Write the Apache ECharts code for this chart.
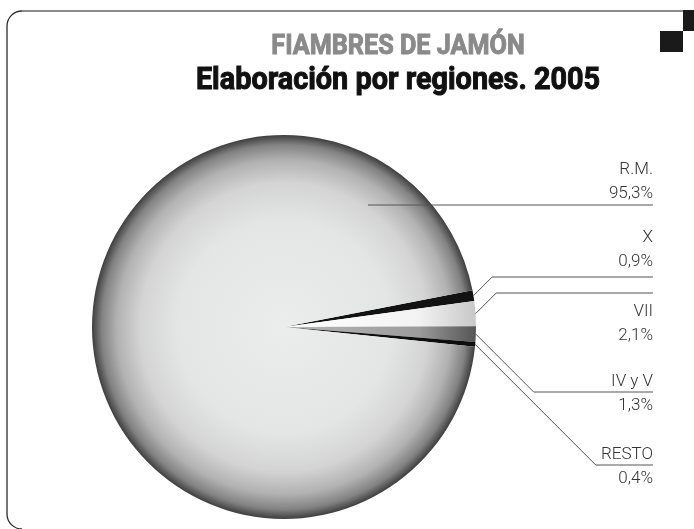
<!DOCTYPE html>
<html>
<head>
<meta charset="utf-8">
<script src="https://cdn.jsdelivr.net/npm/echarts@6/dist/echarts.min.js"></script>
<style>
  html, body { margin: 0; padding: 0; background: #fff; }
  #main { width: 694px; height: 529px; }
</style>
</head>
<body>
<div id="main"></div>
<script>
// datos: elaboración de fiambres de jamón por regiones, 2005 (%)
var regiones = ['X', 'VII', 'IV y V', 'RESTO', 'R.M.'];
var porcentajes = [0.9, 2.1, 1.3, 0.4, 95.3];

// posicion de las etiquetas (columna derecha)
var labelRight = 653;
var labelTop = [226, 300, 370, 443, 158];
var guideY = [277, 293, 392, 465, 205];
var rmAnchor = [368, 205];

var cx = 284, cy = 327, radio = 192;

function radial(stops) {
	return {
		type: 'radial', x: cx, y: cy, r: radio, global: true,
		colorStops: stops.map(function (s) { return { offset: s[0], color: s[1] }; })
	};
}

var colores = [
	'#121212',
	radial([[0, '#ffffff'], [0.7, '#f3f3f3'], [1, '#c8c8c8']]),
	radial([[0, '#b8b8b8'], [0.7, '#9c9c9c'], [1, '#555555']]),
	'#0d0d0d',
	radial([[0, '#ebecec'], [0.55, '#e4e5e5'], [0.75, '#d4d4d4'], [0.87, '#b2b2b2'], [0.95, '#828282'], [1, '#3e3e3e']])
];

var datos = regiones.map(function (n, i) {
	return { name: n, value: porcentajes[i], itemStyle: { color: colores[i] } };
});
// misma torta, transparente, solo para etiquetas (las lineas quedan sobre los sectores)
var datosEtiquetas = regiones.map(function (n, i) {
	return { name: n, value: porcentajes[i] };
});

var marco = { stroke: '#2a2a2a', lineWidth: 1.3, fill: null };

var myChart = echarts.init(document.getElementById('main'));
myChart.setOption({
	animation: false,
	graphic: [
		// marco
		{ type: 'line', silent: true, shape: { x1: 22, y1: 11, x2: 683, y2: 11 },
		  style: { stroke: '#8c8c8c', lineWidth: 2 } },
		{ type: 'arc', silent: true, shape: { cx: 22, cy: 26, r: 15, startAngle: Math.PI, endAngle: Math.PI * 1.5, clockwise: true },
		  style: marco },
		{ type: 'line', silent: true, shape: { x1: 7, y1: 26, x2: 7, y2: 514 }, style: marco },
		{ type: 'arc', silent: true, shape: { cx: 22, cy: 514, r: 15, startAngle: Math.PI * 0.5, endAngle: Math.PI, clockwise: true },
		  style: marco },
		{ type: 'rect', silent: true, shape: { x: 683, y: 10, width: 11, height: 21 }, style: { fill: '#1a1a1a' } },
		{ type: 'rect', silent: true, shape: { x: 660, y: 31, width: 23, height: 21 }, style: { fill: '#1a1a1a' } },
		// titulos
		{ type: 'text', silent: true, x: 398, y: 47, scaleX: 0.9,
		  style: { text: 'FIAMBRES DE JAMÓN', fill: '#8a8a8a', stroke: '#8a8a8a', lineWidth: 1,
		           font: 'bold 28px Roboto', align: 'center', verticalAlign: 'middle' } },
		{ type: 'text', silent: true, x: 398, y: 81, scaleX: 0.93,
		  style: { text: 'Elaboración por regiones. 2005', fill: '#111', stroke: '#111', lineWidth: 1,
		           font: 'bold 31px Roboto', align: 'center', verticalAlign: 'middle' } }
	],
	series: [{
		name: 'Regiones',
		type: 'pie',
		z: 2,
		center: [cx, cy],
		radius: radio,
		startAngle: 11,
		clockwise: true,
		silent: true,
		itemStyle: { borderWidth: 0 },
		label: { show: false },
		labelLine: { show: false },
		data: datos
	}, {
		name: 'Etiquetas',
		type: 'pie',
		z: 4,
		center: [cx, cy],
		radius: radio,
		startAngle: 11,
		clockwise: true,
		avoidLabelOverlap: false,
		silent: true,
		itemStyle: { color: 'rgba(0,0,0,0)', borderWidth: 0 },
		label: {
			show: true,
			position: 'outside',
			color: '#333',
			fontFamily: 'Roboto',
			fontWeight: 300,
			fontSize: 17,
			lineHeight: 24,
			align: 'right',
			formatter: function (p) {
				return p.name + '\n' + p.value.toFixed(1).replace('.', ',') + '%';
			}
		},
		labelLine: { show: true, showAbove: true, length: 10, length2: 10, lineStyle: { color: '#555', width: 1 } },
		labelLayout: function (params) {
			var i = params.dataIndex;
			var p0;
			if (i === 4) {
				p0 = rmAnchor;
			} else if (params.labelLinePoints) {
				p0 = params.labelLinePoints[0];
			} else {
				p0 = [cx + radio, cy];
			}
			var gy = guideY[i];
			var elbow = i === 4 ? [p0[0], gy] : [p0[0] + Math.abs(gy - p0[1]), gy];
			return {
				x: labelRight,
				y: labelTop[i],
				align: 'right',
				verticalAlign: 'top',
				labelLinePoints: [p0, elbow, [labelRight, gy]]
			};
		},
		data: datosEtiquetas
	}]
});
</script>
</body>
</html>
